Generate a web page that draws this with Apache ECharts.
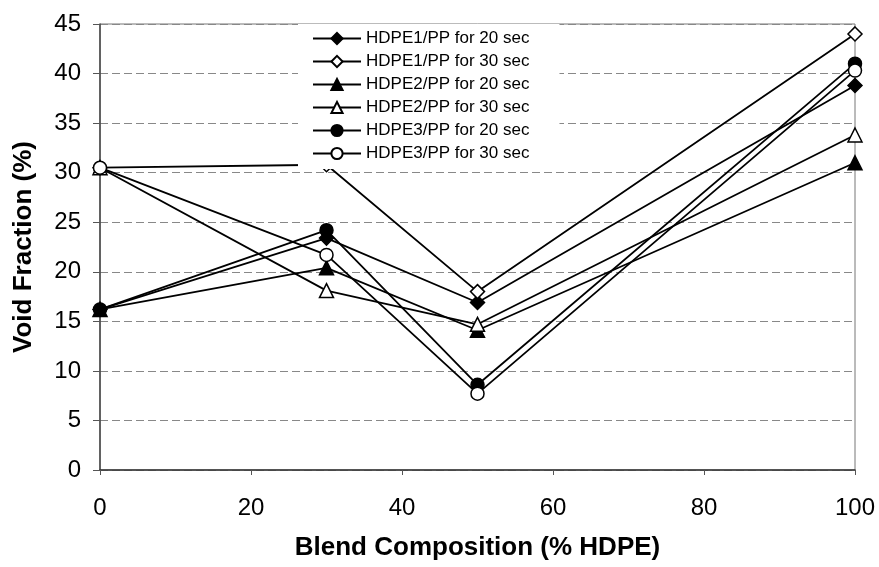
<!DOCTYPE html>
<html>
<head>
<meta charset="utf-8">
<script src="https://cdn.jsdelivr.net/npm/echarts@6/dist/echarts.min.js"></script>
<style>
  html, body { margin: 0; padding: 0; background: #fff; }
  #chart { width: 879px; height: 567px; }
</style>
</head>
<body>
<div id="chart"></div>
<script>
// blend composition (% HDPE)
const blend = [0, 30, 50, 100];

const hdpe1For20 = [16.2, 23.4, 16.9, 38.8];
const hdpe1For30 = [30.5, 30.8, 18.0, 44.0];
const hdpe2For20 = [16.2, 20.4, 14.1, 31.0];
const hdpe2For30 = [30.5, 18.1, 14.7, 33.8];
const hdpe3For20 = [16.2, 24.2, 8.6, 41.0];
const hdpe3For30 = [30.5, 21.7, 7.7, 40.3];

const seriesNames = [
  "HDPE1/PP for 20 sec",
  "HDPE1/PP for 30 sec",
  "HDPE2/PP for 20 sec",
  "HDPE2/PP for 30 sec",
  "HDPE3/PP for 20 sec",
  "HDPE3/PP for 30 sec",
];
const seriesValues = [hdpe1For20, hdpe1For30, hdpe2For20, hdpe2For30, hdpe3For20, hdpe3For30];
const symbols = ["diamond", "diamond", "triangle", "triangle", "circle", "circle"];
const filled = [true, false, true, false, true, false];

const chart = echarts.init(document.getElementById("chart"));

const series = seriesNames.map((name, i) => ({
  name: name,
  type: "line",
  data: blend.map((x, j) => [x, seriesValues[i][j]]),
  symbol: symbols[i],
  symbolSize: symbols[i] == "circle" ? 13 : 14,
  lineStyle: { color: "#000", width: 1.8 },
  itemStyle: {
    color: filled[i] ? "#000" : "#fff",
    borderColor: "#000",
    borderWidth: 1.5,
  },
  emphasis: { disabled: true },
  z: 2,
}));

chart.setOption({
  animation: false,
  backgroundColor: "#fff",
  textStyle: { fontFamily: "Arial, 'Liberation Sans', sans-serif" },
  grid: {
    left: 100,
    right: 24,
    top: 24,
    bottom: 97,
    show: true,
    borderColor: "#777",
    borderWidth: 1,
  },
  legend: {
    orient: "vertical",
    left: 298,
    top: 24,
    padding: [6, 30, 7, 14],
    itemGap: 6,
    itemWidth: 48,
    itemHeight: 14,
    backgroundColor: "#fff",
    textStyle: { fontSize: 17, color: "#000", fontFamily: "Arial, 'Liberation Sans', sans-serif" },
    data: seriesNames,
    z: 10,
  },
  xAxis: {
    type: "value",
    min: 0,
    max: 100,
    interval: 20,
    name: "Blend Composition (% HDPE)",
    nameLocation: "middle",
    nameGap: 65,
    nameTextStyle: { fontSize: 26, fontWeight: "bold", color: "#000" },
    axisLine: { show: true, onZero: false, lineStyle: { color: "#333", width: 1.5 } },
    axisTick: { show: true, length: 5, lineStyle: { color: "#555" } },
    axisLabel: { fontSize: 24, color: "#000", margin: 26 },
    splitLine: { show: false },
  },
  yAxis: {
    type: "value",
    min: 0,
    max: 45,
    interval: 5,
    name: "Void Fraction (%)",
    nameLocation: "middle",
    nameGap: 63,
    nameTextStyle: { fontSize: 26, fontWeight: "bold", color: "#000" },
    axisLine: { show: true, lineStyle: { color: "#444", width: 1.5 } },
    axisTick: { show: true, length: 7, lineStyle: { color: "#555" } },
    axisLabel: { fontSize: 24, color: "#000", margin: 19 },
    splitLine: { show: true, lineStyle: { color: "#888", type: [8, 4], width: 1 } },
  },
  series: series,
});
</script>
</body>
</html>
